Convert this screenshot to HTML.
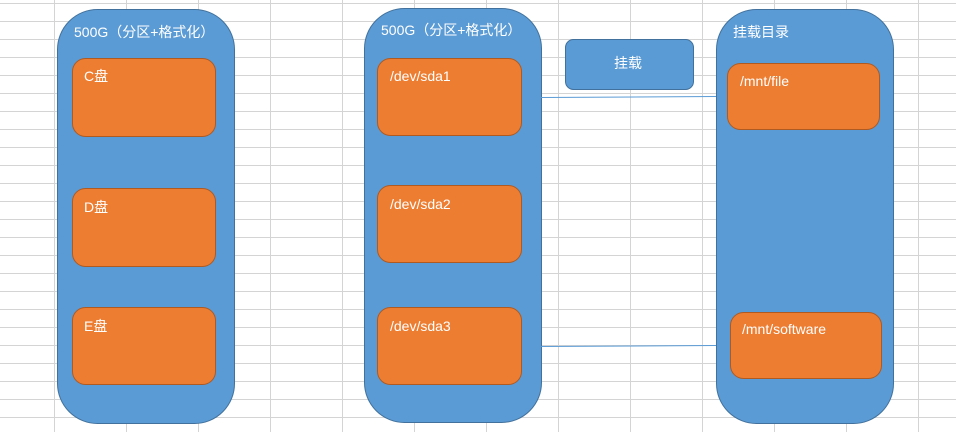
<!DOCTYPE html>
<html><head><meta charset="utf-8">
<style>
html,body{margin:0;padding:0;background:#fff;}
svg{display:block;}
text{font-family:"Liberation Sans","Noto Sans CJK SC",sans-serif;fill:#fff;font-size:14px;}
</style></head><body>
<svg width="956" height="432" viewBox="0 0 956 432" xmlns="http://www.w3.org/2000/svg">
<g stroke="#d4d4d4" stroke-width="1">
<line x1="54.5" y1="0" x2="54.5" y2="432"/><line x1="126.5" y1="0" x2="126.5" y2="432"/>
<line x1="198.5" y1="0" x2="198.5" y2="432"/><line x1="270.5" y1="0" x2="270.5" y2="432"/>
<line x1="342.5" y1="0" x2="342.5" y2="432"/><line x1="414.5" y1="0" x2="414.5" y2="432"/>
<line x1="486.5" y1="0" x2="486.5" y2="432"/><line x1="558.5" y1="0" x2="558.5" y2="432"/>
<line x1="630.5" y1="0" x2="630.5" y2="432"/><line x1="702.5" y1="0" x2="702.5" y2="432"/>
<line x1="774.5" y1="0" x2="774.5" y2="432"/><line x1="846.5" y1="0" x2="846.5" y2="432"/>
<line x1="918.5" y1="0" x2="918.5" y2="432"/>
<line x1="0" y1="3.5" x2="956" y2="3.5"/><line x1="0" y1="21.5" x2="956" y2="21.5"/>
<line x1="0" y1="39.5" x2="956" y2="39.5"/><line x1="0" y1="57.5" x2="956" y2="57.5"/>
<line x1="0" y1="75.5" x2="956" y2="75.5"/><line x1="0" y1="93.5" x2="956" y2="93.5"/>
<line x1="0" y1="111.5" x2="956" y2="111.5"/><line x1="0" y1="129.5" x2="956" y2="129.5"/>
<line x1="0" y1="147.5" x2="956" y2="147.5"/><line x1="0" y1="165.5" x2="956" y2="165.5"/>
<line x1="0" y1="183.5" x2="956" y2="183.5"/><line x1="0" y1="201.5" x2="956" y2="201.5"/>
<line x1="0" y1="219.5" x2="956" y2="219.5"/><line x1="0" y1="237.5" x2="956" y2="237.5"/>
<line x1="0" y1="255.5" x2="956" y2="255.5"/><line x1="0" y1="273.5" x2="956" y2="273.5"/>
<line x1="0" y1="291.5" x2="956" y2="291.5"/><line x1="0" y1="309.5" x2="956" y2="309.5"/>
<line x1="0" y1="327.5" x2="956" y2="327.5"/><line x1="0" y1="345.5" x2="956" y2="345.5"/>
<line x1="0" y1="363.5" x2="956" y2="363.5"/><line x1="0" y1="381.5" x2="956" y2="381.5"/>
<line x1="0" y1="399.5" x2="956" y2="399.5"/><line x1="0" y1="417.5" x2="956" y2="417.5"/>
</g>
<g fill="#5b9bd5" stroke="#41719c" stroke-width="1">
<rect x="57.5" y="9.5" width="177" height="414" rx="40"/>
<rect x="364.5" y="8.5" width="177" height="414" rx="40"/>
<rect x="716.5" y="9.5" width="177" height="414" rx="40"/>
<rect x="565.5" y="39.5" width="128" height="50" rx="8"/>
</g>
<g stroke="#5b9bd5" stroke-width="1">
<line x1="541" y1="97.5" x2="716" y2="96.5"/>
<line x1="541" y1="346.5" x2="716" y2="345.5"/>
</g>
<g fill="#ed7d31" stroke="#ae5a21" stroke-width="1">
<rect x="72.5" y="58.5" width="143" height="78" rx="13"/>
<rect x="72.5" y="188.5" width="143" height="78" rx="13"/>
<rect x="72.5" y="307.5" width="143" height="77" rx="13"/>
<rect x="377.5" y="58.5" width="144" height="77" rx="13"/>
<rect x="377.5" y="185.5" width="144" height="77" rx="13"/>
<rect x="377.5" y="307.5" width="144" height="77" rx="13"/>
<rect x="727.5" y="63.5" width="152" height="66" rx="13"/>
<rect x="730.5" y="312.5" width="151" height="66" rx="13"/>
</g>
<text x="74" y="37">500G（分区+格式化）</text>
<text x="381" y="35">500G（分区+格式化）</text>
<text x="733" y="37" font-size="15">挂载目录</text>
<text x="614" y="68" font-size="15">挂载</text>
<text x="84" y="81">C盘</text>
<text x="84" y="212">D盘</text>
<text x="84" y="331">E盘</text>
<text x="390" y="81">/dev/sda1</text>
<text x="390" y="209">/dev/sda2</text>
<text x="390" y="331">/dev/sda3</text>
<text x="740" y="86">/mnt/file</text>
<text x="742" y="334">/mnt/software</text>
</svg>
</body></html>
